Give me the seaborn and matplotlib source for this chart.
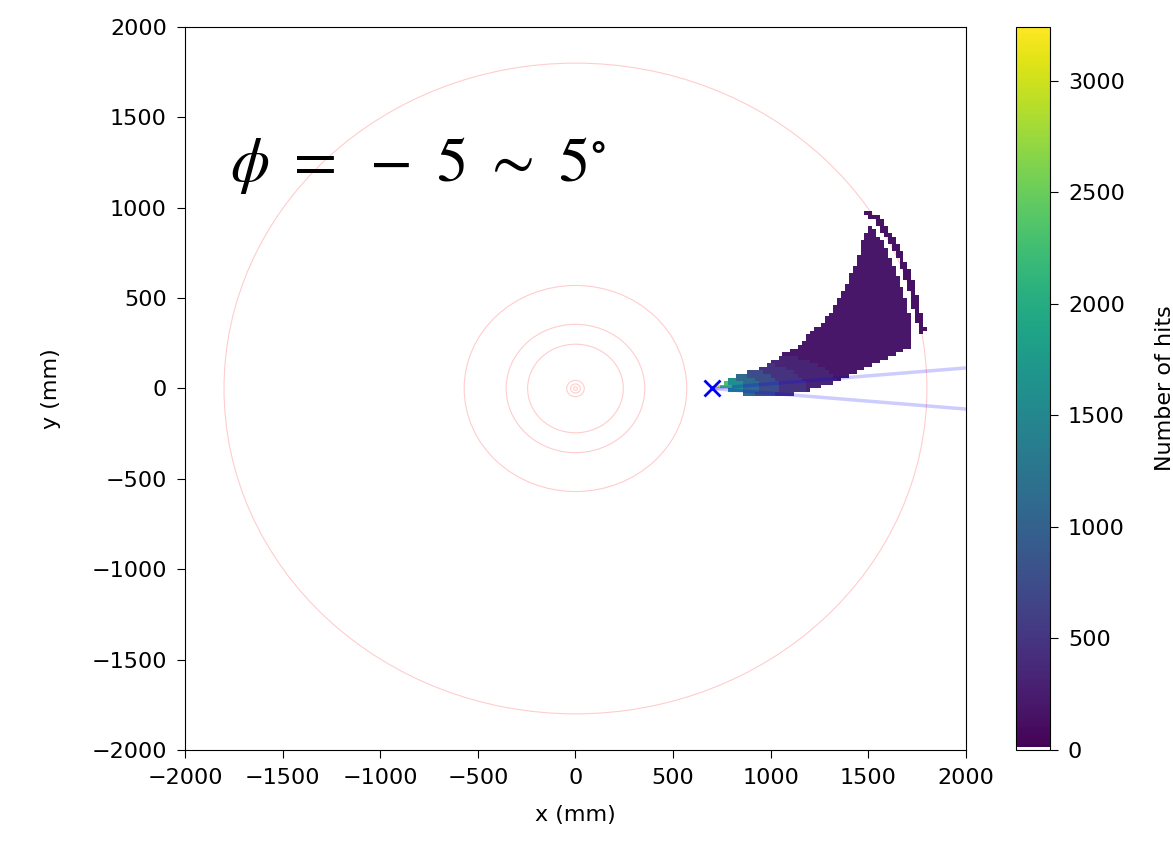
import numpy as np
import matplotlib
matplotlib.use("Agg")
import matplotlib.pyplot as plt
from matplotlib.colors import ListedColormap
from matplotlib.path import Path
import seaborn as sns

# Outline of the main hit region (mm)
wedge_x = [712, 792, 962, 1048, 1133, 1218, 1269, 1355, 1372, 1440, 1483, 1509, 1525,
           1594, 1662, 1700, 1730, 1730, 1713, 1611, 1474, 1389, 1269, 1218, 1099, 877, 860, 740]
wedge_y = [2, 56, 121, 180, 231, 320, 365, 500, 545, 710, 859, 899, 895,
           770, 582, 480, 330, 265, 231, 176, 112, 65, 10, -4, -36, -41, -27, -3]

# Thin strip of hits just outside the outer circle
strip_x = [1509, 1560, 1628, 1697, 1741, 1767, 1793, 1802,
           1768, 1759, 1733, 1708, 1665, 1597, 1530, 1480]
strip_y = [984, 950, 840, 693, 563, 434, 333, 314,
           308, 327, 426, 552, 680, 824, 932, 965]

# Hits per 20 mm cell, by (stretched) distance from the source point (mm)
dist_edges = [0, 50, 100, 170, 250, 350, 480, 650, 5000]
dist_counts = [3240, 2300, 1600, 1100, 750, 480, 320, 200]
band_y = 10        # hits are densest along this y near the source
band_squeeze = 3   # how fast counts fall off away from that band
strip_count = 150

# Detector circles (mm)
circle_radii = [1800, 570, 355, 245, 45, 25, 10]

# Source point and fan half angle
source_x, source_y = 700, 0
fan_half_angle = 5  # degrees

bin_edges = np.arange(-2000, 2001, 20)

# Build the cell list for the 2D histogram
centers = (bin_edges[:-1] + bin_edges[1:]) / 2
gx, gy = np.meshgrid(centers, centers)
pts = np.column_stack([gx.ravel(), gy.ravel()])
in_wedge = Path(np.column_stack([wedge_x, wedge_y])).contains_points(pts)
in_strip = Path(np.column_stack([strip_x, strip_y])).contains_points(pts)

dist = np.hypot(pts[:, 0] - source_x, band_squeeze * (pts[:, 1] - band_y))
idx = np.clip(np.digitize(dist, dist_edges) - 1, 0, len(dist_counts) - 1)
counts = np.zeros(len(pts))
counts[in_wedge] = np.array(dist_counts)[idx[in_wedge]]
counts[in_strip] = strip_count
keep = counts > 0
hit_x, hit_y, hit_w = pts[keep, 0], pts[keep, 1], counts[keep]

# viridis with white for empty
cols = plt.cm.viridis(np.linspace(0, 1, 256))
cols[0] = [1, 1, 1, 1]
cmap = ListedColormap(cols)

plt.rcParams['font.size'] = 16
plt.rcParams['mathtext.fontset'] = 'stix'

fig = plt.figure(figsize=(11.73, 8.43), dpi=100)
ax = fig.add_axes([0.1577, 0.1103, 0.6658, 0.8577])
cax = fig.add_axes([0.866, 0.1103, 0.029, 0.8577])

# circles
for r in circle_radii:
    ax.add_patch(plt.Circle((0, 0), r, fill=False, color='red', alpha=0.2, lw=0.8, zorder=1))

sns.histplot(x=hit_x, y=hit_y, weights=hit_w, bins=(bin_edges, bin_edges),
             cmap=cmap, vmin=0, vmax=3240, cbar=True, cbar_ax=cax,
             cbar_kws={'label': 'Number of hits'}, ax=ax, zorder=2)

# fan lines from the source
for sgn in (1, -1):
    ang = np.deg2rad(sgn * fan_half_angle)
    ax.plot([source_x, source_x + 3000 * np.cos(ang)],
            [source_y, source_y + 3000 * np.sin(ang)],
            color='blue', alpha=0.2, lw=2.5, zorder=3)
ax.plot(source_x, source_y, 'x', color='blue', markersize=11, mew=2, zorder=4)

ax.text(-1770, 1150, r'$\phi\ =\ -\ 5\ \sim\ 5^{\circ}$', fontsize=45, ha='left', va='baseline')

ax.set_xlim(-2000, 2000)
ax.set_ylim(-2000, 2000)
ax.set_xticks(np.arange(-2000, 2001, 500))
ax.set_yticks(np.arange(-2000, 2001, 500))
ax.tick_params(length=6, pad=7)
ax.set_xlabel('x (mm)', labelpad=12)
ax.set_ylabel('y (mm)', labelpad=22)
cax.set_yticks(np.arange(0, 3001, 500))
cax.tick_params(length=6, pad=7)
cax.set_ylabel('Number of hits', labelpad=22)

fig.savefig('out.png', dpi=100)
